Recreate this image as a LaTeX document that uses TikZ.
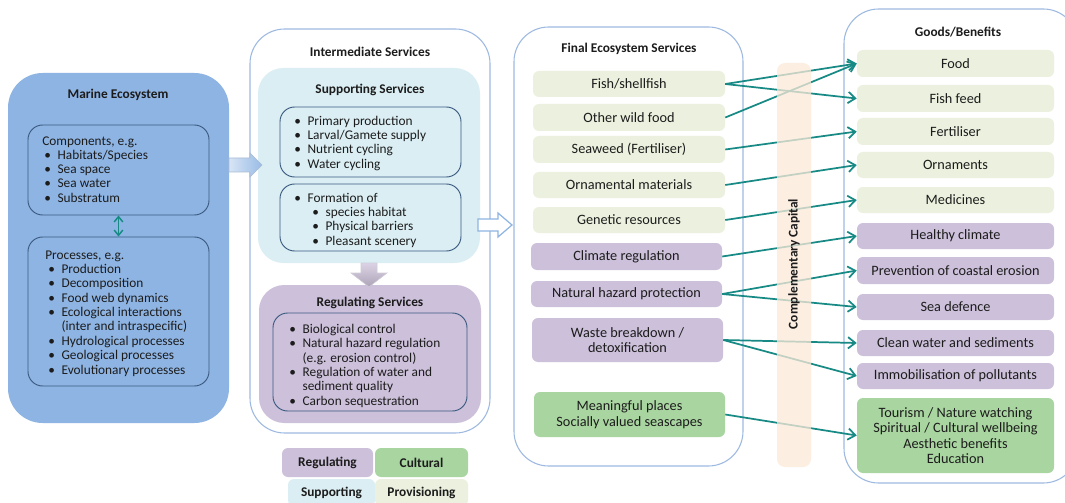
\documentclass[tikz,border=0pt]{standalone}
\usepackage{fontspec}
\setmainfont{Carlito}
\usetikzlibrary{fit,arrows.meta}

\definecolor{marine}{HTML}{8EB4E3}
\definecolor{supp}{HTML}{DAEEF3}
\definecolor{reg}{HTML}{CCC0DA}
\definecolor{prov}{HTML}{EBF1DE}
\definecolor{cult}{HTML}{A9D5A0}
\definecolor{capital}{HTML}{FDE9D9}
\definecolor{tealink}{HTML}{178A85}
\definecolor{frame}{HTML}{9DB9E1}
\definecolor{innerline}{HTML}{3B5A80}
\definecolor{ink}{HTML}{1C1C1C}

% bullet and hanging indent used in the lists
\newcommand{\bul}{\makebox[10pt][l]{•}}
\newcommand{\nob}{\hspace*{10pt}}

\tikzset{
  every node/.style={text=ink, font=\fontsize{10}{10.5}\selectfont},
  % box given by its corners (x1/y1/x2/y2), in picture units
  span/.style args={#1/#2/#3/#4}{minimum width={(#3-#1)*0.75pt}, minimum height={(#4-#2)*0.75pt},
    at={({(#1+#3)/2},{(#2+#4)/2})}},
  panel/.style={draw=frame, line width=0.8pt, fill=white, rounded corners=26pt, inner sep=0pt},
  group/.style={rounded corners=19pt, inner sep=0pt},
  listbox/.style={draw=innerline, line width=0.7pt, rounded corners=11pt, inner sep=0pt},
  tile/.style={rounded corners=4.5pt, inner sep=0pt, align=center, font=\fontsize{10.7}{11.3}\selectfont},
  legend/.style={rounded corners=4.5pt, inner sep=0pt, font=\bfseries\fontsize{10}{10.5}\selectfont},
  title/.style={font=\bfseries\fontsize{10}{10.5}\selectfont},
  li/.style={anchor=west, inner sep=0pt, text height=7pt, text depth=2pt},
  flow/.style={draw=tealink, line width=1.3pt, -{Straight Barb[length=5.5pt,width=8.5pt]}},
  twoway/.style={draw=tealink, line width=1.1pt,
    {Straight Barb[length=4pt,width=6.5pt]}-{Straight Barb[length=4pt,width=6.5pt]}},
}

\begin{document}
\begin{tikzpicture}[x=0.75pt,y=-0.75pt]
\useasboundingbox (0,0) rectangle (1065,503);
\clip (0,0) rectangle (1065,503);
\fill[white] (0,0) rectangle (1065,503);

% ---------------- Marine ecosystem ----------------
\node[span=8/73/229/423, fill=marine, rounded corners=26pt, inner sep=0pt] (marine) {};
\node[title] (marinetitle) at (118,95) {Marine Ecosystem};
\node[listbox, span=28/125/209/215] (components) {};
\node[li] (comphead) at (42,142) {Components, e.g.};
\foreach \t [count=\i from 0] in {Habitats/Species, Sea space, Sea water, Substratum}
  \node[li] (comp-\i) at (44,{156+14.3*\i}) {\bul\t};
\node[listbox, span=28/237/209/386] (processes) {};
\node[li] (prochead) at (45,256) {Processes, e.g.};
\foreach \t [count=\i from 0] in {\bul Production, \bul Decomposition, \bul Food web dynamics,
    \bul Ecological interactions, \nob(inter and intraspecific), \bul Hydrological processes,
    \bul Geological processes, \bul Evolutionary processes}
  \node[li] (proc-\i) at (48,{270+14.4*\i}) {\t};
\draw[twoway] (components.south) -- (processes.north);

% ---------------- Intermediate services ----------------
\node[panel, span=250/29/490/433] (intermediate) {};
\node[title] (inttitle) at (370,52) {Intermediate Services};
\node[group, fill=supp, span=258/68/480/263] (supporting) {};
\node[title] (supptitle) at (370,90) {Supporting Services};
\node[listbox, span=280/107/461/177] (supplist) {};
\foreach \t [count=\i from 0] in {Primary production, Larval/Gamete supply, Nutrient cycling, Water cycling}
  \node[li] (supp-\i) at (294,{122+14.3*\i}) {\bul\t};
\node[listbox, span=280/184/461/251] (formation) {};
\node[li] (formhead) at (294,199) {\bul Formation of};
\foreach \t [count=\i from 0] in {species habitat, Physical barriers, Pleasant scenery}
  \node[li] (form-\i) at (312,{213+14.4*\i}) {\bul\t};

\node[group, fill=reg, span=259/285/481/423] (regulating) {};
\node[title] (regtitle) at (370,303) {Regulating Services};
\node[listbox, span=273/313/467/411] (reglist) {};
\foreach \t [count=\i from 0] in {\bul Biological control, \bul Natural hazard regulation,
    \nob(e.g. erosion control), \bul Regulation of water and, \nob sediment quality,
    \bul Carbon sequestration}
  \node[li] (reg-\i) at (289,{330+14.4*\i}) {\t};

% block arrows between the columns
\path[draw=marine!80!black!60, line width=0.4pt, left color=marine!35, right color=marine!90]
  (229,158) -- (250,158) -- (250,153) -- (262,165) -- (250,177) -- (250,172) -- (229,172) -- cycle;
\path[draw=reg!80!black!50, line width=0.4pt, top color=reg!70, bottom color=reg!80!black!90]
  (361,263) -- (377,263) -- (377,273) -- (387,273) -- (369,287) -- (351,273) -- (361,273) -- cycle;
\path[draw=marine, line width=0.9pt, fill=white]
  (478,219) -- (498,219) -- (498,213) -- (512,225) -- (498,237) -- (498,231) -- (478,231) -- cycle;

% ---------------- Legend ----------------
\node[legend, fill=reg, span=282/448/373/477] (legreg) {Regulating};
\node[legend, fill=cult, span=375/448/468/477] (legcult) {Cultural};
\node[legend, fill=supp, span=288/479/375/506] (legsupp) {Supporting};
\node[legend, fill=prov, span=375/479/468/506] (legprov) {Provisioning};

% ---------------- Final ecosystem services ----------------
\node[panel, span=514/27/743/466] (final) {};
\node[title] (finaltitle) at (629,49) {Final Ecosystem Services};
\node[tile, fill=prov, span=533/71/725/97] (fish) {Fish/shellfish};
\node[tile, fill=prov, span=533/104/725/131] (wild) {Other wild food};
\node[tile, fill=prov, span=533/136/725/163] (seaweed) {Seaweed (Fertiliser)};
\node[tile, fill=prov, span=533/172/725/198] (ornmat) {Ornamental materials};
\node[tile, fill=prov, span=533/207/725/233] (genetic) {Genetic resources};
\node[tile, fill=reg, span=531/243/722/270] (climreg) {Climate regulation};
\node[tile, fill=reg, span=531/281/722/307] (hazard) {Natural hazard protection};
\node[tile, fill=reg, span=532/318/723/362] (waste) {Waste breakdown /\\detoxification};
\node[tile, fill=cult, span=534/392/725/437, font=\fontsize{10.7}{12}\selectfont] (places) {Meaningful places\\Socially valued seascapes};

% ---------------- Goods / benefits ----------------
\node[panel, span=844/9/1078/483] (goods) {};
\node[title] (goodstitle) at (958,32) {Goods/Benefits};
\node[tile, fill=prov, span=857/50/1054/77] (food) {Food};
\node[tile, fill=prov, span=857/85/1054/112] (fishfeed) {Fish feed};
\node[tile, fill=prov, span=857/118/1054/145] (fertiliser) {Fertiliser};
\node[tile, fill=prov, span=857/152/1054/178] (ornaments) {Ornaments};
\node[tile, fill=prov, span=857/187/1054/213] (medicines) {Medicines};
\node[tile, fill=reg, span=857/223/1054/249] (healthy) {Healthy climate};
\node[tile, fill=reg, span=857/257/1054/284] (erosion) {Prevention of coastal erosion};
\node[tile, fill=reg, span=857/294/1054/320] (seadef) {Sea defence};
\node[tile, fill=reg, span=857/330/1054/356] (cleanwater) {Clean water and sediments};
\node[tile, fill=reg, span=857/363/1054/389] (immob) {Immobilisation of pollutants};
\node[tile, fill=cult, span=857/398/1054/473, font=\fontsize{10.7}{11.4}\selectfont] (wellbeing)
  {Tourism / Nature watching\\Spiritual / Cultural wellbeing\\Aesthetic benefits\\Education};

% ---------------- Links from services to benefits ----------------
\draw[flow] (fish.east) -- (food.west);
\draw[flow] (fish.east) -- (fishfeed.west);
\draw[flow] (wild.east) -- (food.west);
\draw[flow] (seaweed.east) -- (fertiliser.west);
\draw[flow] (ornmat.east) -- (ornaments.west);
\draw[flow] (genetic.east) -- (medicines.west);
\draw[flow] (climreg.east) -- (healthy.west);
\draw[flow] (hazard.east) -- (erosion.west);
\draw[flow] (hazard.east) -- (seadef.west);
\draw[flow] (waste.east) -- (cleanwater.west);
\draw[flow] (waste.east) -- (immob.west);
\draw[flow] (places.east) -- (wellbeing.west);

% complementary capital band laid over the links
\node[span=777/63/811/467, fill=capital, fill opacity=0.75, rounded corners=6pt, inner sep=0pt] (capital) {};
\node[title, rotate=90] (captext) at (794,264) {Complementary Capital};
\end{tikzpicture}
\end{document}
